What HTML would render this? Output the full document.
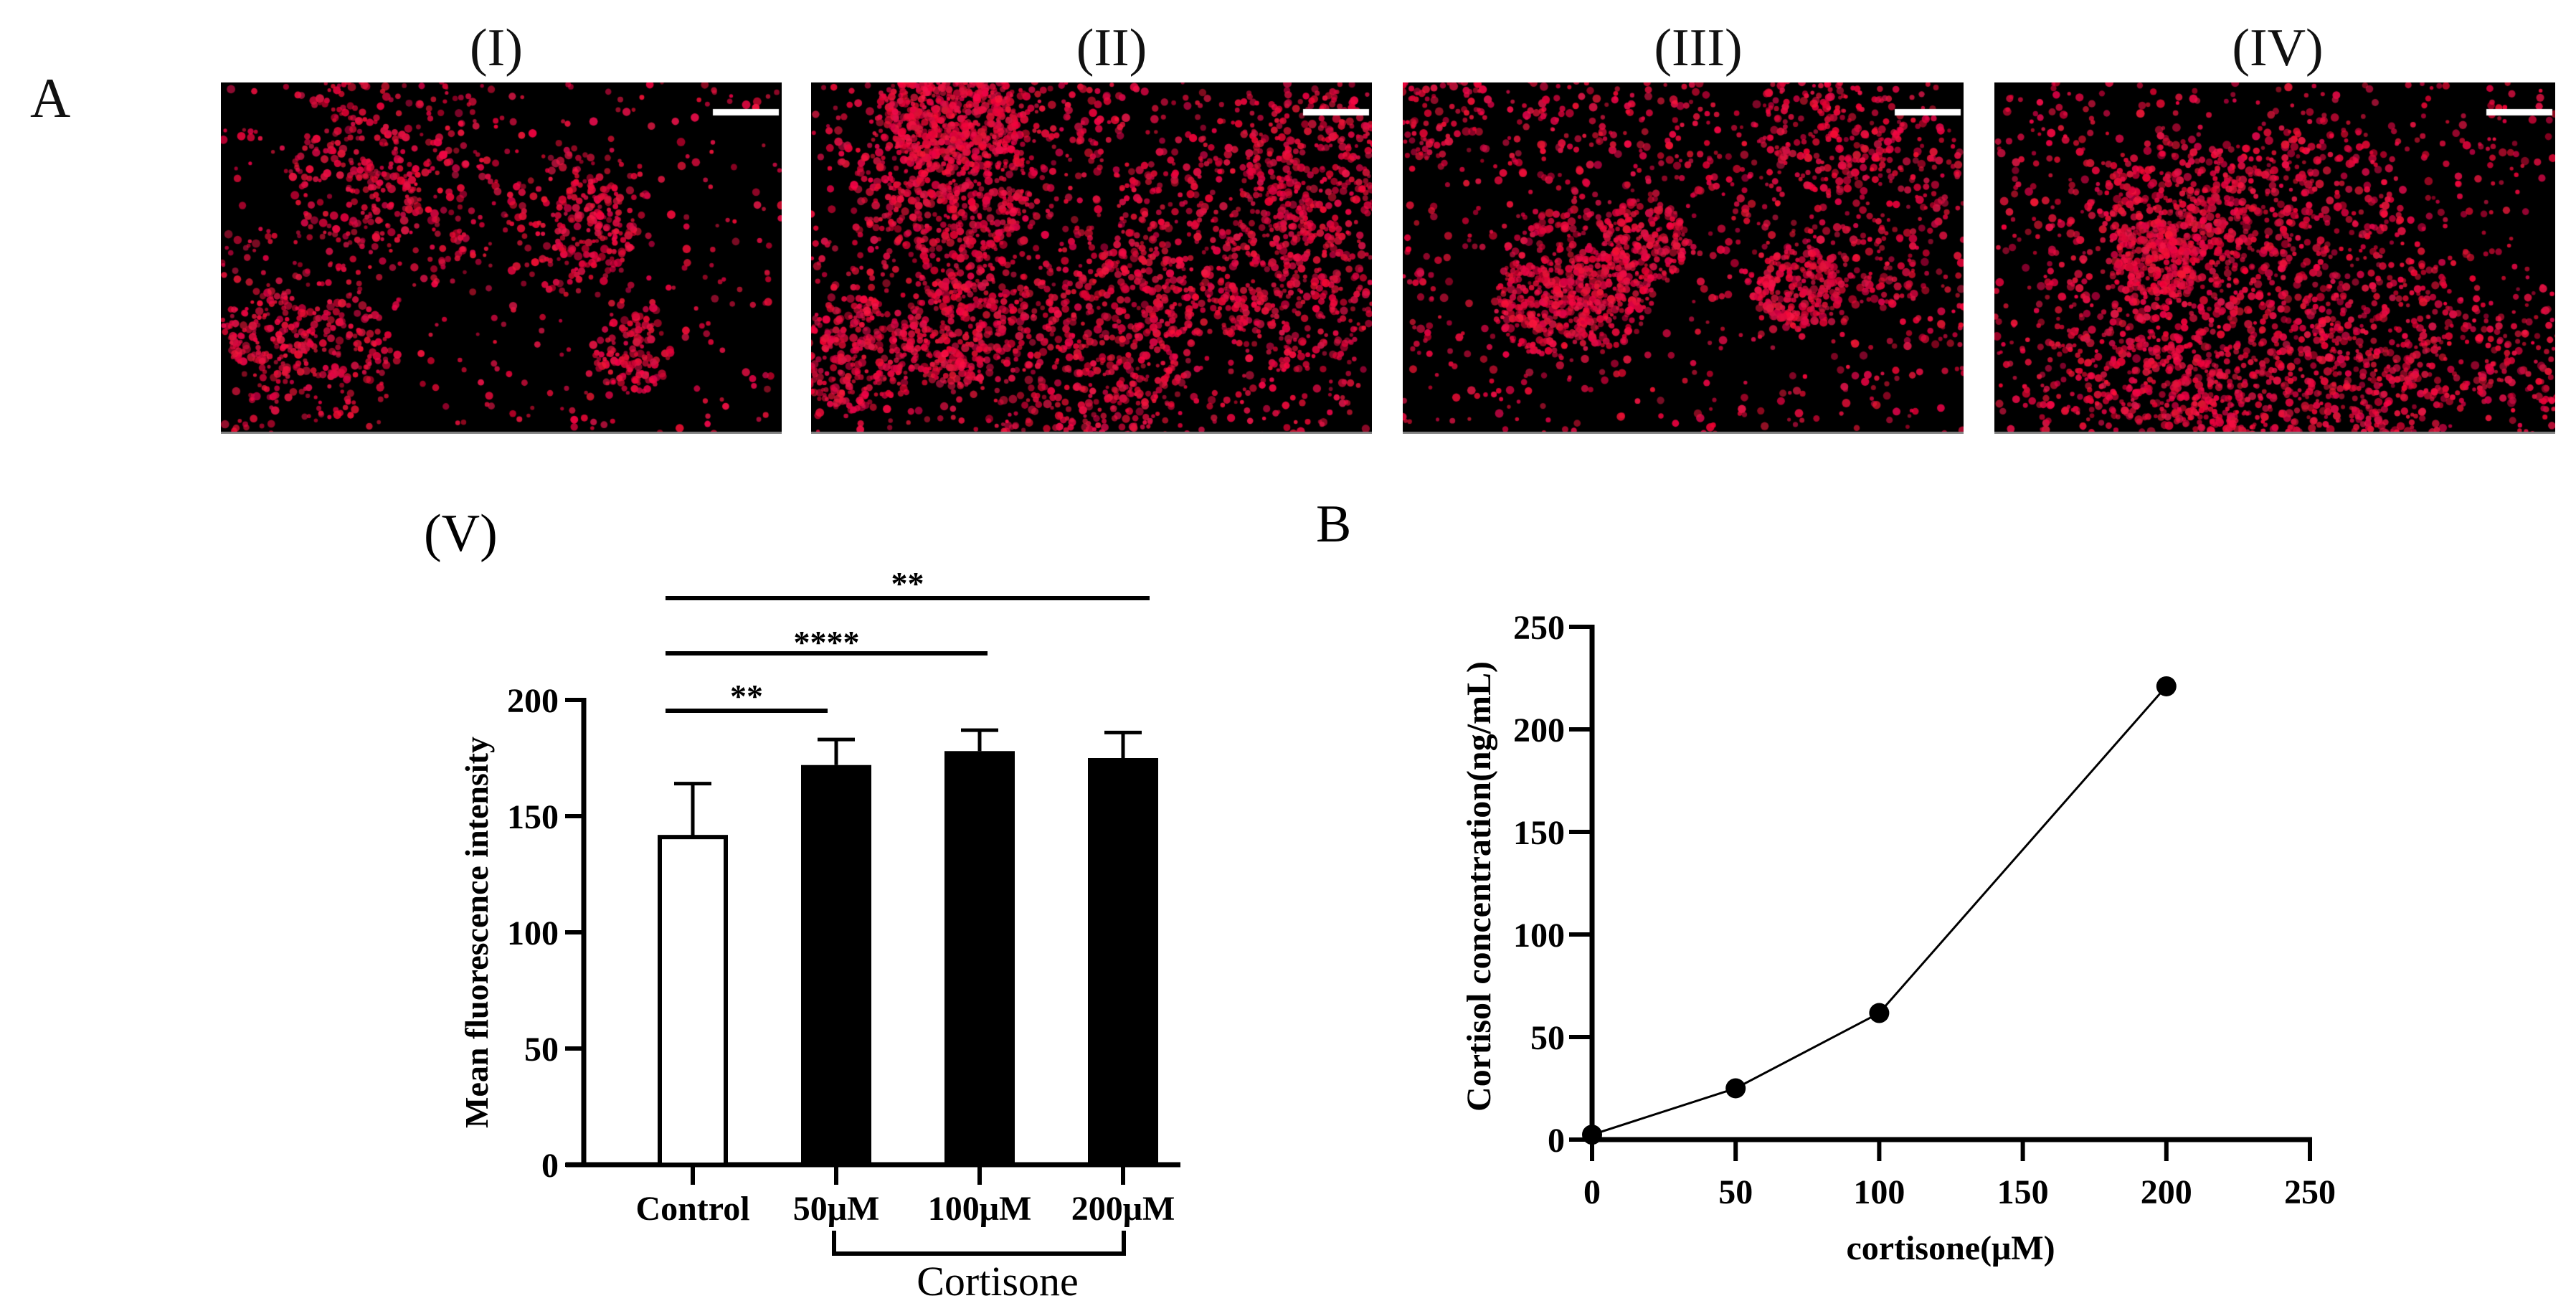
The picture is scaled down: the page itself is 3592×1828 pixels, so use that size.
<!DOCTYPE html>
<html><head><meta charset="utf-8">
<style>
html,body{margin:0;padding:0;background:#fff;}
body{width:3592px;height:1828px;position:relative;overflow:hidden;font-family:"Liberation Serif",serif;}
.lbl{position:absolute;font-family:"Liberation Serif",serif;color:#111;line-height:1;}
canvas{position:absolute;}
</style></head>
<body>
<div class="lbl" style="left:42px;top:98px;font-size:78px;">A</div>
<div class="lbl" style="left:692px;top:30px;font-size:74px;transform:translateX(-50%)">(I)</div>
<div class="lbl" style="left:1550px;top:30px;font-size:74px;transform:translateX(-50%)">(II)</div>
<div class="lbl" style="left:2368px;top:30px;font-size:74px;transform:translateX(-50%)">(III)</div>
<div class="lbl" style="left:3176px;top:30px;font-size:74px;transform:translateX(-50%)">(IV)</div>
<canvas id="c1" width="782" height="490" style="left:308px;top:115px"></canvas>
<canvas id="c2" width="782" height="490" style="left:1131px;top:115px"></canvas>
<canvas id="c3" width="782" height="490" style="left:1956px;top:115px"></canvas>
<canvas id="c4" width="782" height="490" style="left:2781px;top:115px"></canvas>

<svg width="3592" height="1828" style="position:absolute;left:0;top:0" xmlns="http://www.w3.org/2000/svg">
<g id="bar"></g>
<g id="line"></g>
</svg>
<script>
// ---- Bar chart data ----
const barCats = ["Control","50\u03bcM","100\u03bcM","200\u03bcM"];
const barVals = [141,172,178,175];
const barErr = [23,11,9,11];
const barTicks = [0,50,100,150,200];
// ---- Line chart data ----
const lineX = [0,50,100,200];
const lineY = [2.4,25,61.7,221];
const lineXTicks = [0,50,100,150,200,250];
const lineYTicks = [0,50,100,150,200,250];

const NS="http://www.w3.org/2000/svg";
function mk(parent,tag,attrs,text){const e=document.createElementNS(NS,tag);for(const k in attrs)e.setAttribute(k,attrs[k]);if(text!==undefined)e.textContent=text;parent.appendChild(e);return e;}

// Bar chart
(function(){
const g=document.getElementById('bar');
const y0=1624,y200=976,ax=814;
const ys=v=>y0-(y0-y200)*v/200;
const xs=i=>966+i*200;
const bw=98;
let e;
e=mk(g,'line',{x1:ax,y1:ys(200)-3,x2:ax,y2:y0+3,stroke:'#000','stroke-width':7});

e=mk(g,'line',{x1:789,y1:y0,x2:1646,y2:y0,stroke:'#000','stroke-width':7});

barTicks.forEach(t=>{
 mk(g,'line',{x1:ax-26,y1:ys(t),x2:ax,y2:ys(t),stroke:'#000','stroke-width':6});
 e=mk(g,'text',{x:779,y:ys(t)+17,'text-anchor':'end','font-size':48,'font-weight':'bold','font-family':'Liberation Serif'},String(t));
 
});
barCats.forEach((c,i)=>{
 const x=xs(i),top=ys(barVals[i]),et=ys(barVals[i]+barErr[i]);
 mk(g,'line',{x1:x,y1:top,x2:x,y2:et,stroke:'#000','stroke-width':5});
 mk(g,'line',{x1:x-26,y1:et,x2:x+26,y2:et,stroke:'#000','stroke-width':5});
 e=mk(g,'rect',{x:x-bw/2+(i==0?3:0),y:top,width:bw-(i==0?6:0),height:y0-top,fill:i==0?'#fff':'#000',stroke:'#000','stroke-width':i==0?6:0});
 
 mk(g,'line',{x1:x,y1:y0,x2:x,y2:y0+28,stroke:'#000','stroke-width':6});
 e=mk(g,'text',{x:x,y:1701,'text-anchor':'middle','font-size':48,'font-weight':'bold','font-family':'Liberation Serif'},c);
 
});
[[991,1154,962,'**'],[911,1377,887,'****'],[834,1603,805,'**']].forEach(s=>{
 e=mk(g,'line',{x1:928,y1:s[0],x2:s[1],y2:s[0],stroke:'#000','stroke-width':6});
 
 e=mk(g,'text',{x:(928+s[1])/2,y:s[2]+24,'text-anchor':'middle','font-size':46,'font-weight':'bold','font-family':'Liberation Serif'},s[3]);
 
});
e=mk(g,'path',{d:'M1163 1716 V1748 H1567 V1716',fill:'none',stroke:'#000','stroke-width':6});

e=mk(g,'text',{x:1391,y:1806,'text-anchor':'middle','font-size':58,'font-family':'Liberation Serif'},'Cortisone');

e=mk(g,'text',{x:680,y:1300,'text-anchor':'middle','font-size':46,'font-weight':'bold','font-family':'Liberation Serif',transform:'rotate(-90 680 1300)'},'Mean fluorescence intensity');

e=mk(g,'text',{x:591,y:768,'font-size':74,'font-family':'Liberation Serif'},'(V)');

})();

// Line chart
(function(){
const g=document.getElementById('line');
const X0=2220,X1=3221,Y0=1589,Y1=874;
const xs=v=>X0+(X1-X0)*v/250, ys=v=>Y0-(Y0-Y1)*v/250;
let e;
e=mk(g,'line',{x1:X0,y1:Y1-3,x2:X0,y2:Y0+3,stroke:'#000','stroke-width':7});

e=mk(g,'line',{x1:X0-3,y1:Y0,x2:X1+3,y2:Y0,stroke:'#000','stroke-width':7});

lineYTicks.forEach(t=>{
 mk(g,'line',{x1:X0-32,y1:ys(t),x2:X0,y2:ys(t),stroke:'#000','stroke-width':6});
 e=mk(g,'text',{x:2182,y:ys(t)+17,'text-anchor':'end','font-size':48,'font-weight':'bold','font-family':'Liberation Serif'},String(t));
 
});
lineXTicks.forEach(t=>{
 mk(g,'line',{x1:xs(t),y1:Y0,x2:xs(t),y2:Y0+30,stroke:'#000','stroke-width':6});
 e=mk(g,'text',{x:xs(t),y:1678,'text-anchor':'middle','font-size':48,'font-weight':'bold','font-family':'Liberation Serif'},String(t));
 
});
e=mk(g,'polyline',{points:lineX.map((x,i)=>xs(x)+','+ys(lineY[i])).join(' '),fill:'none',stroke:'#000','stroke-width':3});

lineX.forEach((x,i)=>{
 e=mk(g,'circle',{cx:xs(x),cy:ys(lineY[i]),r:14,fill:'#000'});
 
});
e=mk(g,'text',{x:2720,y:1756,'text-anchor':'middle','font-size':48,'font-weight':'bold','font-family':'Liberation Serif'},'cortisone(\u03bcM)');

e=mk(g,'text',{x:2078,y:1236,'text-anchor':'middle','font-size':48,'font-weight':'bold','font-family':'Liberation Serif',transform:'rotate(-90 2078 1236)'},'Cortisol concentration(ng/mL)');

e=mk(g,'text',{x:1835,y:755,'font-size':74,'font-family':'Liberation Serif'},'B');

})();

// Micrographs (decorative texture)
function rng(seed){return function(){seed=(seed*1664525+1013904223)>>>0;return seed/4294967296;};}
function micro(id,seed,count,clusters){
 const c=document.getElementById(id),ctx=c.getContext('2d'),r=rng(seed);
 ctx.fillStyle='#000';ctx.fillRect(0,0,c.width,c.height);
 const cl=[];for(let i=0;i<clusters;i++)cl.push([r()*c.width,r()*c.height,50+r()*120]);
 for(let i=0;i<count;i++){
  let x,y;
  if(r()<0.75){const k=cl[Math.floor(r()*cl.length)];const a=r()*6.283,d=Math.sqrt(r())*k[2];x=k[0]+Math.cos(a)*d;y=k[1]+Math.sin(a)*d;}
  else{x=r()*c.width;y=r()*c.height;}
  const rad=2.5+r()*3.5;
  ctx.fillStyle='rgba('+(210+Math.floor(r()*40))+','+Math.floor(r()*25)+','+(50+Math.floor(r()*25))+','+(0.55+r()*0.4)+')';
  ctx.beginPath();ctx.arc(x,y,rad,0,6.283);ctx.fill();
 }
 ctx.fillStyle='#fff';ctx.fillRect(c.width-96,37,92,9);
 ctx.fillStyle='#888';ctx.fillRect(0,c.height-3,c.width,3);
}
micro('c1',11,1500,9);
micro('c2',23,3800,12);
micro('c3',37,2400,10);
micro('c4',51,3000,11);
</script>
</body></html>
